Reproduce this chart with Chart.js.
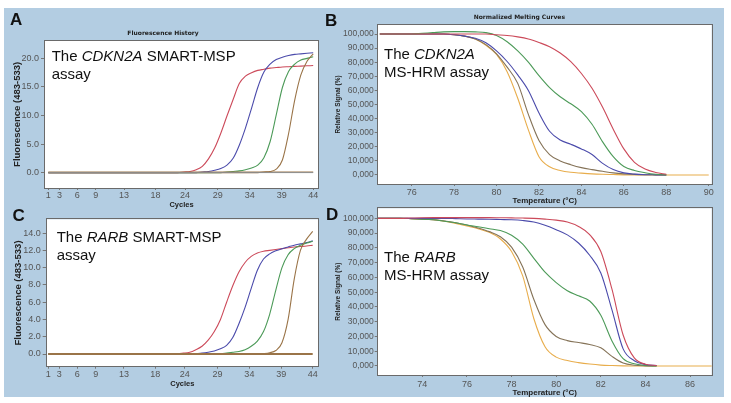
<!DOCTYPE html>
<html>
<head>
<meta charset="utf-8">
<script src="https://cdn.jsdelivr.net/npm/chart.js@4.4.1/dist/chart.umd.min.js"></script>
<style>
body{margin:0;background:#fff;width:731px;height:403px;position:relative;overflow:hidden;font-family:"Liberation Sans",Arial,sans-serif}
#bg{position:absolute;left:4px;top:8px;width:720px;height:389px;background:#b3cde2}
canvas{position:absolute}
.lab{position:absolute;font:bold 17px "Liberation Sans",Arial,sans-serif;line-height:17px;color:#111}
.note{position:absolute;font:15px "Liberation Sans",Arial,sans-serif;line-height:18px;color:#111;white-space:nowrap}
</style>
</head>
<body>
<div id="bg"></div>
<canvas id="chartA" width="316" height="190" style="left:8px;top:24px"></canvas>
<canvas id="chartB" width="388" height="204" style="left:327px;top:8px"></canvas>
<canvas id="chartC" width="316" height="190" style="left:8px;top:205px"></canvas>
<canvas id="chartD" width="388" height="200" style="left:327px;top:200px"></canvas>

<div class="lab" style="left:10px;top:10.6px">A</div>
<div class="lab" style="left:325px;top:12px">B</div>
<div class="lab" style="left:12.5px;top:206.6px">C</div>
<div class="lab" style="left:326px;top:205.6px">D</div>

<div class="note" style="left:51.7px;top:46.5px">The <i>CDKN2A</i> SMART-MSP<br>assay</div>
<div class="note" style="left:384px;top:44.8px">The <i>CDKN2A</i><br>MS-HRM assay</div>
<div class="note" style="left:56.7px;top:228.3px">The <i>RARB</i> SMART-MSP<br>assay</div>
<div class="note" style="left:384px;top:248.3px">The <i>RARB</i><br>MS-HRM assay</div>

<script>
// サイクル数 (A, C 共通)
var cycles = [1,2,3,4,5,6,7,8,9,10,11,12,13,14,15,16,17,18,19,20,21,22,23,24,25,26,27,28,29,30,31,32,33,34,35,36,37,38,39,40,41,42,43,44];
// 目盛りの位置とラベル (LightCycler の表示そのまま)
var cycleTickPos = [1, 2.8, 5.7, 8.7, 13.3, 18.4, 23.2, 28.5, 33.7, 38.9, 44];
var cycleTickLabels = ['1','3','6','9','13','18','24','29','34','39','44'];

// A: CDKN2A SMART-MSP
var aRed   = [0,0,0,0,0,0,0,0,0,0,0,0,0,0,0,0,0,0,0,0,0,0,0.1,0.2,0.5,1.1,2.4,4.3,6.9,9.9,12.8,15.6,16.9,17.5,17.9,18.1,18.3,18.4,18.5,18.55,18.6,18.65,18.7,18.75];
var aBlue  = [0,0,0,0,0,0,0,0,0,0,0,0,0,0,0,0,0,0,0,0,0,0,0,0,0,0.1,0.2,0.4,0.7,1.3,2.5,4.8,7.8,11.3,14.9,17.6,19.0,19.8,20.2,20.5,20.7,20.8,20.9,21.0];
var aGreen = [0,0,0,0,0,0,0,0,0,0,0,0,0,0,0,0,0,0,0,0,0,0,0,0,0,0,0,0,0,0.1,0.2,0.3,0.5,0.8,1.3,2.6,5.4,10.1,14.9,17.7,19.0,19.7,20.0,20.3];
var aBrown = [0,0,0,0,0,0,0,0,0,0,0,0,0,0,0,0,0,0,0,0,0,0,0,0,0,0,0,0,0,0,0,0,0,0,0,0.1,0.2,0.6,2.2,6.8,12.7,17.1,19.5,20.8];
var aNegX = [1, 44];
var aNegY = [0.1, 0.1];
var aBaseY = [0, 0];
var aYTicks = [0, 5, 10, 15, 20];

// C: RARB SMART-MSP
var cRed   = [0,0,0,0,0,0,0,0,0,0,0,0,0,0,0,0,0,0,0,0,0,0.05,0.1,0.2,0.5,0.9,1.6,2.6,4.0,6.0,7.9,9.5,10.6,11.3,11.7,11.9,12.0,12.1,12.2,12.3,12.4,12.45,12.5,12.6];
var cBlue  = [0,0,0,0,0,0,0,0,0,0,0,0,0,0,0,0,0,0,0,0,0,0,0,0,0.05,0.1,0.2,0.35,0.6,1.0,1.9,3.5,5.4,7.6,9.7,11.0,11.6,11.95,12.2,12.4,12.6,12.75,12.9,13.1];
var cGreen = [0,0,0,0,0,0,0,0,0,0,0,0,0,0,0,0,0,0,0,0,0,0,0,0,0,0,0,0,0.05,0.1,0.2,0.3,0.5,0.9,1.5,2.6,4.6,7.4,10.0,11.5,12.2,12.6,12.85,13.05];
var cBrown = [0,0,0,0,0,0,0,0,0,0,0,0,0,0,0,0,0,0,0,0,0,0,0,0,0,0,0,0,0,0,0,0,0,0,0,0.05,0.15,0.4,1.3,4.0,8.7,12.0,13.3,14.2];
var cNegX = [1, 44];
var cNegY = [0, 0];
var cYTicks = [0, 2, 4, 6, 8, 10, 12, 14];

// B: CDKN2A MS-HRM (温度 °C)
var tempB = [74.5,75,75.5,76,76.5,77,77.5,78,78.5,79,79.5,80,80.5,81,81.5,82,82.5,83,83.5,84,84.5,85,85.5,86,86.5,87,87.5,88,88.5,89,89.5,90];
var bOrange = [100,100,100,100,100,100,100,99.5,98.5,96.5,92,85.5,73.3,54.4,32,13,5.8,3.2,1.9,1.3,0.8,0.5,0.3,0.1,0,0,0,0,0,0,0,0];
var bBrown  = [100,100,100,100,100,100,100,99.5,98.5,96.5,92.5,86,76.5,65,43,24.5,14.5,10,7.3,5.2,3.8,2.6,1.5,0.8,0.4,0.2,0.1,0,null,null,null,null];
var bBlue   = [100,100,100,100,100,100,100,99.5,98.5,97,93.8,88,80.5,71,60,44,31,24.8,21.8,18.5,14.5,8.2,3.8,1.5,0.6,0.2,0.1,0,null,null,null,null];
var bGreen  = [100,100,100,100,100.5,101,101.5,101.7,101.7,101.5,101,99,94.5,88,80,70.5,62,55.5,50.5,45,36,23.5,13,6,3.2,1.6,0.5,0,null,null,null,null];
var bRed    = [100,100,100,100,100,100,100,100,100,100,100,99.5,99,98,96.5,94,91,86.5,80.4,72,61.5,48,32.5,18.5,9,4.2,1.8,0.5,null,null,null,null];
var bXTicks = [76, 78, 80, 82, 84, 86, 88, 90];

// D: RARB MS-HRM (温度 °C)
var tempD = [72,72.5,73,73.5,74,74.5,75,75.5,76,76.5,77,77.5,78,78.5,79,79.5,80,80.5,81,81.5,82,82.5,83,83.5,84,84.5,85,85.5,86,86.5,87];
var dOrange = [100,100,100,99.8,99.5,99,98,96.5,94.8,93,90.5,86,77.5,61,32,13,6,3.7,2.3,1.3,0.6,0.3,0.1,0,0,0,0,0,0,0,0];
var dBrown  = [100,100,100,99.8,99.5,99,98.2,97,95.5,93.5,91,87.5,80.5,67,45,28,20,17.2,15.9,14.6,12.3,6.5,2,0.5,0.1,0,null,null,null,null,null];
var dGreen  = [100,100,100,99.8,99.5,99,98,97,95.5,94.3,93,91.7,88.5,82.5,72.9,63.5,56.5,51,47.5,44,34.3,17,5,1.5,0.4,0,null,null,null,null,null];
var dBlue   = [100,100,100,100,100,100,100,99.8,99.6,99.5,99.4,99.2,99,98.5,97.5,95.3,92.3,88.8,83.3,75,63,38,11.6,3.6,1,0.3,null,null,null,null,null];
var dRed    = [100,100,100,100.2,100.4,100.5,100.5,100.5,100.5,100.5,100.5,100.4,100.3,100.2,100,99.5,98.8,97.5,94.5,89,77.5,52,21,5.5,1.2,0.3,null,null,null,null,null];
var dXTicks = [74, 76, 78, 80, 82, 84, 86];

var meltYTicks = [0, 10, 20, 30, 40, 50, 60, 70, 80, 90, 100];

// 色
var RED = '#cc4a5a', BLUE = '#4b4bab', GREEN = '#4c9a58', BROWN = '#9a7448', OLIVE = '#857358', ORANGE = '#e8ad4c';
var FONT = '"Liberation Sans", Arial, sans-serif';

// プロット領域の白背景と枠
var framePlugin = {
  id: 'frame',
  beforeDraw: function(chart) {
    var a = chart.chartArea, c = chart.ctx;
    c.save();
    c.fillStyle = '#fff';
    c.fillRect(a.left, a.top, a.right - a.left, a.bottom - a.top);
    c.restore();
  },
  afterDraw: function(chart) {
    var a = chart.chartArea, c = chart.ctx;
    c.save();
    c.strokeStyle = '#6a6a6a';
    c.lineWidth = 1;
    c.strokeRect(Math.round(a.left) - 0.5, Math.round(a.top) - 0.5, Math.round(a.right - a.left) + 1, Math.round(a.bottom - a.top) + 1);
    c.restore();
  }
};

function line(xs, ys, color, width) {
  var pts = [];
  for (var i = 0; i < xs.length; i++) pts.push({x: xs[i], y: ys[i]});
  return {
    data: pts,
    borderColor: color,
    borderWidth: width || 1.1,
    pointRadius: 0,
    fill: false,
    spanGaps: false,
    cubicInterpolationMode: 'monotone'
  };
}

function makeChart(id, p) {
  return new Chart(document.getElementById(id), {
    type: 'line',
    data: {datasets: p.datasets},
    plugins: [framePlugin],
    options: {
      responsive: false,
      animation: false,
      events: [],
      devicePixelRatio: 1,
      layout: {padding: {top: p.padTop, right: p.padRight, left: 0, bottom: 0}},
      plugins: {
        legend: {display: false},
        tooltip: {enabled: false},
        title: {
          display: !!p.title,
          text: p.title || '',
          color: '#222',
          font: {family: '"DejaVu Sans", sans-serif', size: 6, weight: 'bold'},
          padding: {top: p.titleTop || 0, bottom: p.titleBottom || 0}
        }
      },
      scales: {
        x: {
          type: 'linear',
          min: p.xMin, max: p.xMax,
          afterBuildTicks: function(s) { s.ticks = p.xTicks.map(function(v) { return {value: v}; }); },
          afterFit: function(s) { s.height = p.xHeight; s.paddingLeft = 0; s.paddingRight = 0; },
          ticks: {
            autoSkip: false, maxRotation: 0, padding: p.xTickPad,
            color: '#555', font: {family: FONT, size: 9},
            callback: function(v, i) { return p.xLabels ? p.xLabels[i] : String(v); }
          },
          grid: {drawOnChartArea: false, tickLength: 2, color: '#777'},
          border: {display: false},
          title: {
            display: true, text: p.xTitle, color: '#222',
            font: {family: FONT, size: p.xTitleSize, weight: 'bold'},
            padding: {top: 0, bottom: p.xTitlePad}
          }
        },
        y: {
          min: p.yMin, max: p.yMax,
          afterBuildTicks: function(s) { s.ticks = p.yTicks.map(function(v) { return {value: v}; }); },
          afterFit: function(s) { s.width = p.yWidth; s.paddingTop = 0; s.paddingBottom = 0; },
          ticks: {
            padding: p.yTickPad, color: '#555', font: {family: FONT, size: p.yTickSize},
            callback: p.yFormat
          },
          grid: {drawOnChartArea: false, tickLength: p.yTickLen, color: '#777'},
          border: {display: false},
          title: {
            display: true, text: p.yTitle, color: '#222',
            font: {family: FONT, size: p.yTitleSize, weight: 'bold'},
            padding: {top: p.yTitlePad, bottom: 0}
          }
        }
      }
    }
  });
}

function fmt1(v) { return v.toFixed(1); }
function fmtPct(v) { return v.toFixed(3).replace('.', ','); }

// A
makeChart('chartA', {
  datasets: [
    line(aNegX, aBaseY, '#8c8c8c', 1),
    line(aNegX, aNegY, BROWN, 1),
    line(cycles, aBrown, BROWN),
    line(cycles, aGreen, GREEN),
    line(cycles, aBlue, BLUE),
    line(cycles, aRed, RED)
  ],
  title: 'Fluorescence History', titleTop: 5.5, titleBottom: 4,
  padTop: 0, padRight: 6,
  xMin: 0.46, xMax: 44.78, xTicks: cycleTickPos, xLabels: cycleTickLabels,
  xHeight: 26, xTickPad: 0, xTitle: 'Cycles', xTitleSize: 7.5, xTitlePad: 4.2,
  yMin: -2.7, yMax: 23.1, yTicks: aYTicks, yFormat: fmt1, yWidth: 37,
  yTickPad: 2, yTickLen: 4, yTickSize: 9,
  yTitle: 'Fluorescence (483-533)', yTitleSize: 9.5, yTitlePad: 3.8
});

// B
makeChart('chartB', {
  datasets: [
    line(tempB, bRed, RED),
    line(tempB, bGreen, GREEN),
    line(tempB, bBlue, BLUE),
    line(tempB, bBrown, OLIVE),
    line(tempB, bOrange, ORANGE)
  ],
  title: 'Normalized Melting Curves', titleTop: 5.4, titleBottom: 4.4,
  padTop: 0, padRight: 3.3,
  xMin: 74.4, xMax: 90.14, xTicks: bXTicks,
  xHeight: 28, xTickPad: 1.5, xTitle: 'Temperature (°C)', xTitleSize: 8, xTitlePad: 6.2,
  yMin: -6.4, yMax: 106.4, yTicks: meltYTicks, yFormat: fmtPct, yWidth: 50.7,
  yTickPad: 1, yTickLen: 3, yTickSize: 8.5,
  yTitle: 'Relative Signal (%)', yTitleSize: 6.5, yTitlePad: 7.6
});

// C
makeChart('chartC', {
  datasets: [
    line(cNegX, cNegY, BROWN, 2.2),
    line(cycles, cBrown, BROWN),
    line(cycles, cGreen, GREEN),
    line(cycles, cBlue, BLUE),
    line(cycles, cRed, RED)
  ],
  padTop: 14.3, padRight: 6,
  xMin: 0.74, xMax: 44.86, xTicks: cycleTickPos, xLabels: cycleTickLabels,
  xHeight: 28.3, xTickPad: 0.5, xTitle: 'Cycles', xTitleSize: 7.5, xTitlePad: 6.9,
  yMin: -1.47, yMax: 15.6, yTicks: cYTicks, yFormat: fmt1, yWidth: 38.7,
  yTickPad: 2, yTickLen: 4, yTickSize: 9,
  yTitle: 'Fluorescence (483-533)', yTitleSize: 9.5, yTitlePad: 4.3
});

// D
makeChart('chartD', {
  datasets: [
    line(tempD, dRed, RED),
    line(tempD, dBlue, BLUE),
    line(tempD, dGreen, GREEN),
    line(tempD, dBrown, OLIVE),
    line(tempD, dOrange, ORANGE)
  ],
  padTop: 8.3, padRight: 3.3,
  xMin: 72.0, xMax: 86.97, xTicks: dXTicks,
  xHeight: 25, xTickPad: 2, xTitle: 'Temperature (°C)', xTitleSize: 8, xTitlePad: 2.5,
  yMin: -6.1, yMax: 106.8, yTicks: meltYTicks, yFormat: fmtPct, yWidth: 50.7,
  yTickPad: 1, yTickLen: 3, yTickSize: 8.5,
  yTitle: 'Relative Signal (%)', yTitleSize: 6.5, yTitlePad: 7.1
});
</script>
</body>
</html>
